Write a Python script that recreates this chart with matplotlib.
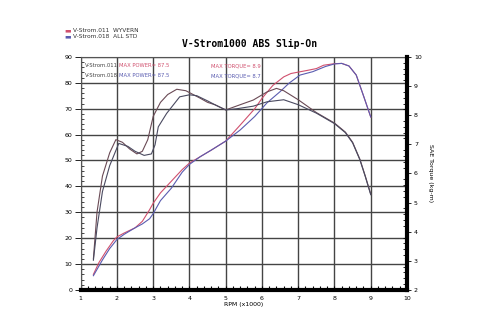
import matplotlib
matplotlib.use('Agg')
import matplotlib.pyplot as plt
from matplotlib.ticker import MultipleLocator

# data
rpm_p011 = [1.35, 1.5, 1.7, 1.9, 2.0, 2.2, 2.5, 2.7, 2.9, 3.0, 3.2, 3.5, 3.8, 4.0, 4.3, 4.6, 5.0,
            5.4, 5.8, 6.0, 6.3, 6.6, 6.8, 7.25, 7.5, 7.7, 8.0, 8.2, 8.4, 8.6, 8.8, 9.0]
pow_011 = [6, 10.5, 15, 19, 20.5, 22, 24, 26.5, 31, 33.5, 37.5, 42, 46.5, 49, 51.5, 54, 57.5,
           63.7, 70, 74, 79, 82.3, 83.6, 84.8, 85.5, 86.8, 87.4, 87.5, 86.5, 83, 75, 66.8]

rpm_p018 = [1.35, 1.6, 1.8, 2.0, 2.2, 2.5, 2.7, 2.9, 3.0, 3.2, 3.5, 3.8, 4.0, 4.3, 4.6, 5.0,
            5.4, 5.8, 6.14, 6.5, 6.75, 7.05, 7.4, 7.75, 8.0, 8.2, 8.4, 8.6, 8.8, 9.0]
pow_018 = [5.5, 11.6, 16, 19.5, 21.5, 24, 25.5, 27.5, 29.5, 34.5, 39.3, 45.5, 48.5, 51.5, 54, 57.5,
           61.8, 67, 72.3, 76.6, 79.9, 83, 84.3, 86.3, 87.3, 87.5, 86.5, 83, 75, 66.8]

rpm_t011 = [1.35, 1.45, 1.6, 1.8, 1.97, 2.15, 2.35, 2.55, 2.7, 2.85, 3.0, 3.2, 3.4, 3.65, 3.9,
            4.1, 4.3, 4.5, 4.7, 5.0, 5.2, 5.4, 5.76, 6.14, 6.4, 6.6, 7.0, 7.5, 8.0, 8.3, 8.5,
            8.7, 8.85, 9.0]
trq_011 = [3.07, 4.67, 5.91, 6.71, 7.16, 7.07, 6.84, 6.67, 6.76, 7.16, 7.96, 8.44, 8.71, 8.89, 8.84,
           8.71, 8.58, 8.44, 8.36, 8.18, 8.27, 8.36, 8.52, 8.80, 8.92, 8.84, 8.53, 8.09, 7.73, 7.42, 7.07,
           6.49, 5.91, 5.29]

rpm_t018 = [1.35, 1.45, 1.6, 1.8, 2.05, 2.3, 2.5, 2.75, 2.95, 3.05, 3.14, 3.37, 3.73, 4.0, 4.2,
            4.5, 4.7, 5.0, 5.3, 5.76, 6.14, 6.6, 7.0, 7.5, 8.0, 8.3, 8.5, 8.7, 8.85, 9.0]
trq_018 = [3.02, 4.13, 5.38, 6.27, 7.03, 6.93, 6.76, 6.62, 6.67, 6.98, 7.60, 8.06, 8.63, 8.70, 8.67,
           8.49, 8.36, 8.18, 8.22, 8.31, 8.46, 8.53, 8.36, 8.07, 7.71, 7.40, 7.05, 6.47, 5.89, 5.27]

red = '#d0506e'
blue = '#5a5cb0'
red_dk = '#6a4a55'
blue_dk = '#4a4a60'

fig = plt.figure(figsize=(5, 3.31), dpi=100)
ax = fig.add_axes([0.1614, 0.124, 0.6526, 0.704])
ax2 = ax.twinx()

ax.plot(rpm_p011, pow_011, color=red, lw=0.8)
ax.plot(rpm_p018, pow_018, color=blue, lw=0.8)
ax2.plot(rpm_t011, trq_011, color=red_dk, lw=0.8)
ax2.plot(rpm_t018, trq_018, color=blue_dk, lw=0.8)

ax.set_xlim(1, 10)
ax.set_ylim(0, 90)
ax2.set_ylim(2, 10)

ax.xaxis.set_major_locator(MultipleLocator(1))
ax.xaxis.set_minor_locator(MultipleLocator(0.2))
ax.yaxis.set_major_locator(MultipleLocator(10))
ax.yaxis.set_minor_locator(MultipleLocator(2))
ax2.yaxis.set_major_locator(MultipleLocator(1))
ax2.yaxis.set_minor_locator(MultipleLocator(0.2))

ax.grid(True, which='major', color='#444444', lw=1.0)
ax.set_axisbelow(True)

ax.tick_params(axis='y', which='major', direction='out', length=4, width=0.6, labelsize=4.5, pad=2)
ax.tick_params(axis='y', which='minor', direction='in', length=2.5, width=0.5)
ax.tick_params(axis='x', which='both', direction='in', width=0.8, labelsize=4.5, pad=4)
ax.tick_params(axis='x', which='major', length=3)
ax.tick_params(axis='x', which='minor', length=3)
ax2.tick_params(axis='y', which='major', direction='out', length=3, width=0.6, labelsize=4.5, pad=2)
ax2.tick_params(axis='y', which='minor', direction='in', length=3, width=0.6)

for s in ['top', 'left']:
    ax.spines[s].set_color('#555555')
    ax.spines[s].set_linewidth(0.8)
ax.spines['bottom'].set_linewidth(3)
ax2.spines['right'].set_linewidth(3)
ax2.spines['left'].set_visible(False)
ax2.spines['top'].set_visible(False)
ax2.spines['bottom'].set_visible(False)

ax.set_xlabel('RPM (x1000)', fontsize=4.5, labelpad=1)
ax2.set_ylabel('SAE Torque (kg-m)', fontsize=4.5, rotation=-90, labelpad=8)

fig.text(0.5, 0.868, 'V-Strom1000 ABS Slip-On', ha='center', va='center',
         fontsize=7, family='DejaVu Sans Mono', fontweight='bold')

fig.text(0.128, 0.907, '\u25ac', color=red, fontsize=5, va='center')
fig.text(0.146, 0.907, 'V-Strom.011  WYVERN', fontsize=4.2, va='center', color='#333333')
fig.text(0.128, 0.889, '\u25ac', color=blue, fontsize=5, va='center')
fig.text(0.146, 0.889, 'V-Strom.018  ALL STD', fontsize=4.2, va='center', color='#333333')

fs = 3.8
ax.text(1.12, 86.6, 'V-Strom.011', fontsize=fs, color='#444444', va='center')
ax.text(2.05, 86.6, 'MAX POWER= 87.5', fontsize=fs, color=red, va='center')
ax.text(4.6, 86.6, 'MAX TORQUE= 8.9', fontsize=fs, color=red, va='center')
ax.text(1.12, 82.8, 'V-Strom.018', fontsize=fs, color='#444444', va='center')
ax.text(2.05, 82.8, 'MAX POWER= 87.5', fontsize=fs, color=blue, va='center')
ax.text(4.6, 82.8, 'MAX TORQUE= 8.7', fontsize=fs, color=blue, va='center')

fig.savefig('out.png', dpi=100)
